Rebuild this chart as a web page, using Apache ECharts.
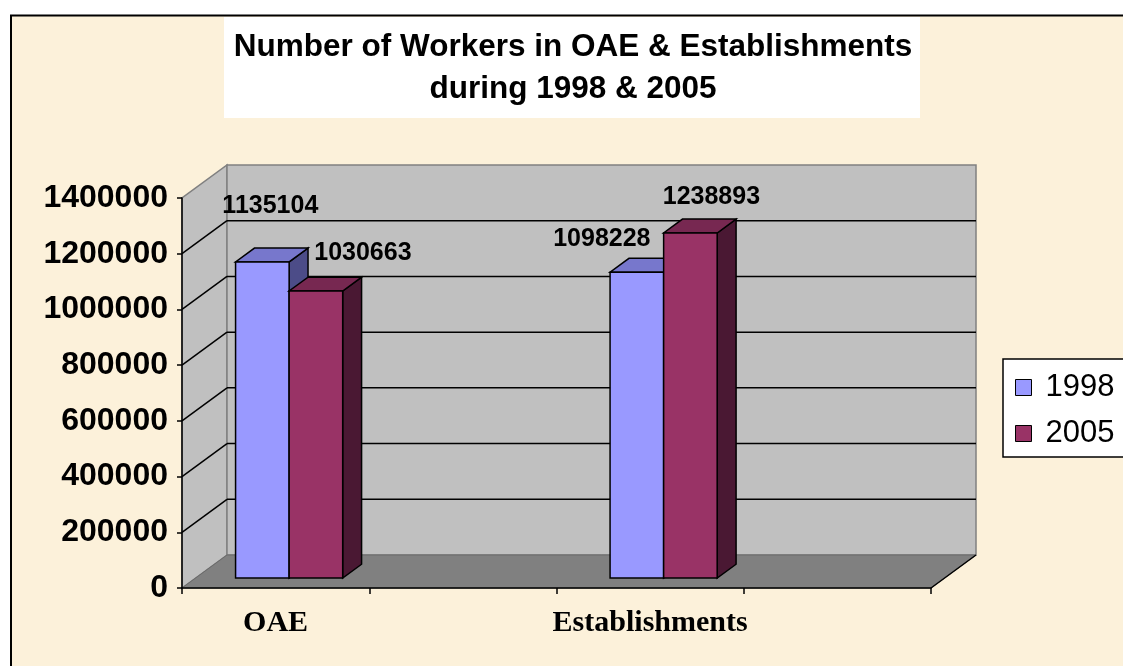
<!DOCTYPE html>
<html>
<head>
<meta charset="utf-8">
<script src="https://cdn.jsdelivr.net/npm/echarts@6/dist/echarts.min.js"></script>
<style>
  html, body { margin: 0; padding: 0; background: #fff; }
  #chart { width: 1123px; height: 666px; }
</style>
</head>
<body>
<div id="chart"></div>
<script>
// data
var categories = ['OAE', '', 'Establishments', ''];
var workers1998 = [1135104, null, 1098228, null];
var workers2005 = [1030663, null, 1238893, null];
var yTicks = [0, 200000, 400000, 600000, 800000, 1000000, 1200000, 1400000];
var seriesNames = ['1998', '2005'];

// 3d look
var DX = 45, DY = -33;      // depth of the box
var F1 = 0.3, F2 = 0.72;    // bar front / back as fraction of depth
var BAR = 0.286;            // bar width / category width
var faces = [
  { front: '#9999FF', top: '#7777CC', side: '#4C4C88' },
  { front: '#993366', top: '#772851', side: '#4A1833' }
];
// excel put the value labels in odd places
var labelShift = [
  [[8, -56], null, [-35, -33], null],
  [[47, -38], null, [21, -36], null]
];

function toPairs(arr) {
  var out = [];
  arr.forEach(function (v, i) { if (v != null) out.push([i, v]); });
  return out;
}

function wallRenderer(params, api) {
  var cs = params.coordSys;
  var L = cs.x, R = cs.x + cs.width, T = cs.y, B = cs.y + cs.height;
  var gray = { fill: '#C0C0C0', stroke: '#808080', lineWidth: 1.5 };
  var kids = [
    { type: 'polygon', shape: { points: [[L, B], [L, T], [L + DX, T + DY], [L + DX, B + DY]] }, style: gray },
    { type: 'rect', shape: { x: L + DX, y: T + DY, width: R - L, height: B - T }, style: gray },
    { type: 'polygon', shape: { points: [[L, B], [R, B], [R + DX, B + DY], [L + DX, B + DY]] },
      style: { fill: '#808080', stroke: '#6a6a6a', lineWidth: 1 } },
    { type: 'line', shape: { x1: R, y1: B, x2: R + DX, y2: B + DY }, style: { stroke: '#000', lineWidth: 1.5 } }
  ];
  yTicks.forEach(function (v, k) {
    if (k === 0 || k === yTicks.length - 1) return;
    var y = api.coord([0, v])[1];
    kids.push({ type: 'line', shape: { x1: L, y1: y, x2: L + DX, y2: y + DY }, style: { stroke: '#000', lineWidth: 1.5 } });
    kids.push({ type: 'line', shape: { x1: L + DX, y1: y + DY, x2: R + DX, y2: y + DY }, style: { stroke: '#000', lineWidth: 1.5 } });
  });
  return { type: 'group', children: kids };
}

function barRenderer(s) {
  return function (params, api) {
    var i = api.value(0), v = api.value(1);
    var base = api.coord([i, 0]), top = api.coord([i, v]);
    var w = api.size([1, 0])[0] * BAR;
    var fx = DX * F1, fy = DY * F1;
    var bx = DX * (F2 - F1), by = DY * (F2 - F1);
    var x0 = base[0] + fx - w + s * w, x1 = x0 + w;
    var yb = base[1] + fy, yt = top[1] + fy;
    var edge = { stroke: '#000', lineWidth: 1.5 };
    var c = faces[s];
    var sh = labelShift[s][i] || [0, -30];
    return {
      type: 'group',
      children: [
        { type: 'polygon', shape: { points: [[x1, yt], [x1 + bx, yt + by], [x1 + bx, yb + by], [x1, yb]] },
          style: Object.assign({ fill: c.side }, edge) },
        { type: 'polygon', shape: { points: [[x0, yt], [x1, yt], [x1 + bx, yt + by], [x0 + bx, yt + by]] },
          style: Object.assign({ fill: c.top }, edge) },
        { type: 'rect', shape: { x: x0, y: yt, width: w, height: yb - yt },
          style: Object.assign({ fill: c.front }, edge) },
        { type: 'text', x: (x0 + x1) / 2 + sh[0], y: yt + sh[1],
          style: { text: String(v), fill: '#000', align: 'center', verticalAlign: 'middle',
                   font: 'bold 25px "Liberation Sans", Arial, sans-serif' } }
      ]
    };
  };
}

var chart = echarts.init(document.getElementById('chart'));
chart.setOption({
  backgroundColor: '#fff',
  animation: false,
  graphic: [
    { type: 'rect', z: -10, shape: { x: 11, y: 15.5, width: 1200, height: 700 },
      style: { fill: '#FCF1DA', stroke: '#000', lineWidth: 2 } },
    { type: 'rect', z: -5, shape: { x: 224, y: 17, width: 696, height: 101 }, style: { fill: '#fff' } },
    { type: 'text', x: 573, y: 26,
      style: { text: 'Number of Workers in OAE & Establishments\nduring 1998 & 2005',
               fill: '#000', align: 'center', lineHeight: 42,
               font: 'bold 31.5px "Liberation Sans", Arial, sans-serif' } }
  ],
  legend: {
    data: seriesNames,
    orient: 'vertical',
    left: 1003, top: 359,
    backgroundColor: '#fff',
    borderColor: '#000', borderWidth: 1.5, borderRadius: 0,
    padding: [13, 20, 8, 12],
    icon: 'rect', itemWidth: 16, itemHeight: 16, itemGap: 15,
    itemStyle: { borderColor: '#000', borderWidth: 1 },
    textStyle: { fontSize: 31, padding: [0, 0, 0, 9],
                 fontFamily: '"Liberation Sans", Arial, sans-serif', color: '#000' }
  },
  grid: { left: 182, right: 192, top: 198, bottom: 78 },
  xAxis: {
    type: 'category', data: categories, z: 5,
    axisLine: { lineStyle: { color: '#000', width: 1.5 } },
    axisTick: { show: true, interval: 0, length: 6, lineStyle: { color: '#000', width: 1.5 } },
    axisLabel: { interval: 0, margin: 20, color: '#000', fontSize: 30, fontWeight: 'bold',
                 fontFamily: '"Liberation Serif", "Times New Roman", serif' }
  },
  yAxis: {
    type: 'value', min: 0, max: 1400000, interval: 200000, z: 5,
    axisLine: { show: true, lineStyle: { color: '#000', width: 1.5 } },
    axisTick: { show: true, length: 5, lineStyle: { color: '#000', width: 1.5 } },
    splitLine: { show: false },
    axisLabel: { margin: 14, color: '#000', fontSize: 32, fontWeight: 'bold',
                 fontFamily: '"Liberation Sans", Arial, sans-serif',
                 formatter: function (v) { return String(v); } }
  },
  series: [
    { type: 'custom', name: 'walls', z: 1, silent: true, renderItem: wallRenderer, data: [[0, 0]] },
    { type: 'custom', name: seriesNames[0], z: 2, renderItem: barRenderer(0),
      itemStyle: { color: faces[0].front }, data: toPairs(workers1998) },
    { type: 'custom', name: seriesNames[1], z: 3, renderItem: barRenderer(1),
      itemStyle: { color: faces[1].front }, data: toPairs(workers2005) }
  ]
});
</script>
</body>
</html>
